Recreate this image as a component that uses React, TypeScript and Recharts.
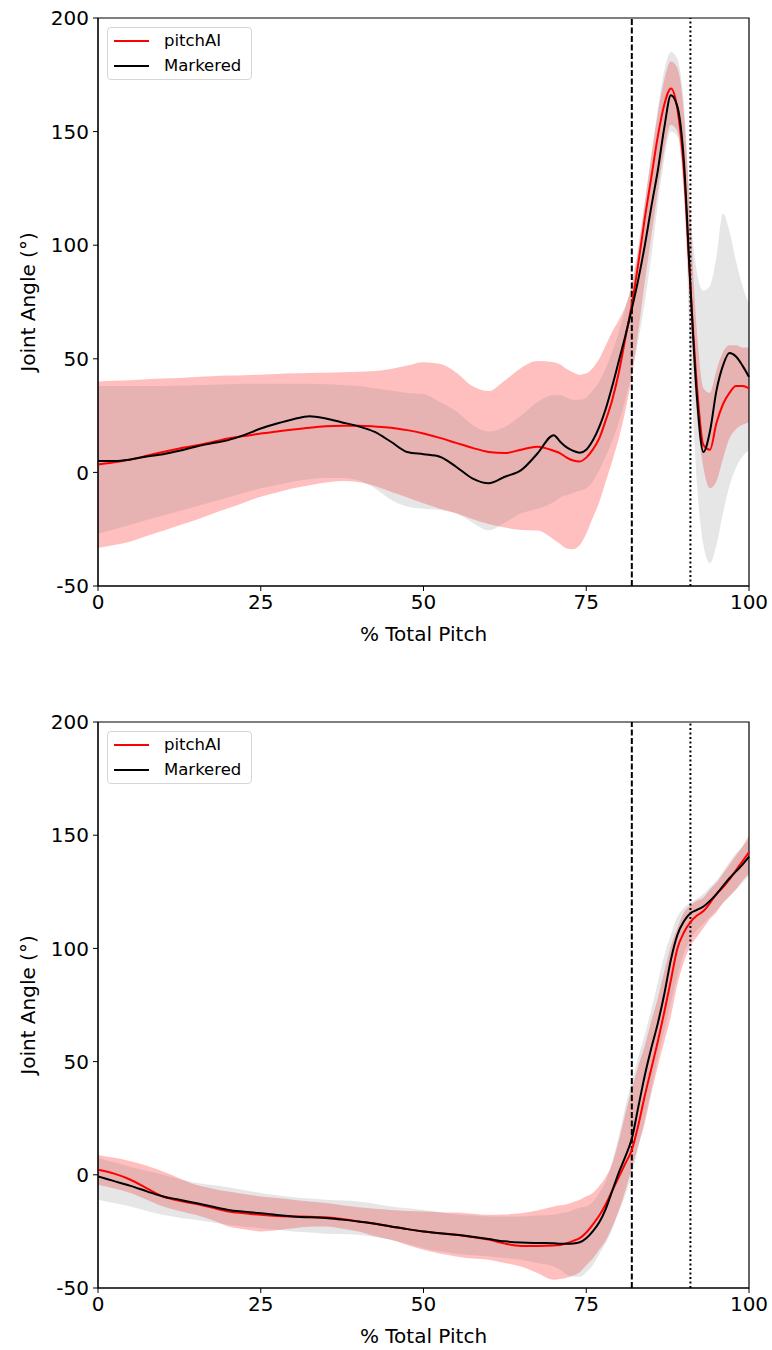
import React from "react";
import { ComposedChart, Area, Line, XAxis, YAxis, ReferenceLine, ReferenceArea, Legend } from "recharts";

// % of total pitch (finer grid through the arm cocking / acceleration phase)
const pct = [
  0, 2.5, 5, 7.5, 10, 12.5, 15, 17.5, 20, 22.5, 25, 27.5, 30, 32.5, 35, 37.5, 40, 42.5, 45, 47.5, 50, 52.5, 55, 57.5, 60, 62.5, 65, 67.5, 70,
  71, 72, 73, 74, 75, 76, 77, 78, 79, 80, 81, 82, 83, 84, 85, 86, 87, 88, 89, 90, 91, 92, 93, 94, 95, 96, 97, 98, 99, 100,
];

// top panel
const topPitchAI = [
  3.5, 4.5, 5.7, 7.3, 9, 10.5, 11.8, 13.3, 14.9, 16, 17.1, 18, 18.9, 19.7, 20.3, 20.5, 20.5, 20.2, 19.7, 18.6, 17.1, 15.2, 13, 10.8, 9, 8.5, 10, 11.3, 9.5,
  8.4, 6.5, 5.2, 4.8, 6.5, 10, 15, 23, 32, 44, 59, 74, 92, 112, 130, 148, 162, 169, 160, 133, 82, 38, 12, 10, 21.7, 30, 35, 38, 38, 37,
];
const topPitchAILo = [
  -33.3, -32, -30.4, -28, -25.7, -23.3, -20.9, -18.3, -15.8, -13.2, -10.7, -8.8, -7, -5.7, -4.5, -3.8, -4.2, -6, -8.5, -11, -13.6, -16, -18, -20.5, -22.7, -24.3, -25.3, -25.6, -29.5,
  -31.5, -33.5, -33.8, -32, -27, -20, -13, -4, 5, 15, 27, 42, 62, 84, 104, 124, 142, 153, 150, 122, 70, 25, 2, -7, -4, 6, 15, 19, 21, 22,
];
const topPitchAIHi = [
  40, 40.3, 40.6, 41, 41.3, 41.6, 42, 42.3, 42.6, 42.8, 43, 43.3, 43.6, 43.8, 43.9, 44.1, 44.3, 44.6, 45.5, 47, 48.5, 47.8, 44, 38, 35.8, 40.5, 46, 49, 48.5,
  47.5, 45.5, 44, 43, 43.5, 46, 50, 56, 62, 67, 73, 82, 98, 118, 139, 158, 173, 181, 178, 158, 110, 62, 37, 35, 45, 53, 56, 56, 55, 55,
];
const topMarkered = [
  5, 5, 5.7, 7, 8, 9.5, 11.3, 12.8, 14.2, 16.5, 19.3, 21.5, 23.4, 24.7, 23.7, 22, 20.3, 17.8, 13.5, 9, 8, 6.9, 2.5, -2.6, -4.8, -1.9, 1, 8.3, 16.4,
  13.5, 11, 9.5, 8.7, 10, 14, 20, 28, 38, 49, 60, 72, 85, 100, 117, 133, 152, 166, 161, 137, 82, 33, 9, 18, 36, 47, 52.5, 51, 47, 42,
];
const topMarkeredLo = [
  -27, -25, -23, -21, -19, -17, -15, -13, -11, -9, -7, -5.5, -4, -3, -2.5, -2.5, -3.5, -7, -12, -15, -16, -16.5, -18, -22, -25.5, -22, -18, -16, -13,
  -11, -10, -9, -8, -7, -4, 1, 7, 14, 22, 32, 44, 58, 75, 95, 118, 138, 150, 148, 125, 50, -5, -32, -40, -32, -18, -6, 2, 7, 10,
];
const topMarkeredHi = [
  38, 38, 38, 38, 38, 38.2, 38.4, 38.6, 38.8, 39, 39, 39, 39, 39, 38.8, 38.5, 38, 37, 36, 35, 34.5, 31, 27, 21, 18, 20, 25, 31, 34,
  34, 33, 32, 32, 33, 36, 40, 46, 53, 62, 72, 84, 100, 120, 140, 160, 177, 185, 182, 162, 115, 88, 80, 82, 95, 114, 106, 93, 82, 74,
];

// bottom panel
const botPitchAI = [
  2.2, 0.5, -2.2, -6, -9.6, -11.5, -12.8, -14.5, -16.2, -17, -17.7, -18.2, -18.4, -18.5, -18.8, -19.5, -20.6, -21.5, -22.8, -24, -25, -25.8, -26.5, -27.5, -28.6, -30.4, -31.4, -31.4, -31.2,
  -31, -30.2, -29.2, -28, -25.5, -22, -18, -13, -7, -1, 5, 11, 22, 35, 47, 59, 72, 86, 100, 107, 111.6, 114.5, 116.5, 120, 124, 127, 130.5, 134.5, 138.5, 142.5,
];
const botPitchAILo = [
  -4.4, -6, -8, -11, -14, -16, -17.7, -20, -22.8, -24, -25, -24.5, -23.6, -23, -22.8, -23.8, -25, -27, -28.7, -31, -33.1, -34.8, -36.1, -37, -37.5, -39, -40.5, -43.4, -46.4,
  -46, -45.5, -44.5, -43, -40, -37, -33, -29, -23, -16, -7, 3, 13, 23, 36, 48, 59, 70, 84, 94, 101, 105, 109, 113, 116, 120, 123, 126, 130, 133,
];
const botPitchAIHi = [
  8.8, 7.5, 6, 4, 1.5, -1.5, -4.4, -6, -7.4, -8.5, -9.6, -10.3, -11, -11.8, -12.5, -13.4, -14.3, -15, -15.5, -16, -16.2, -16.5, -16.7, -17.2, -17.7, -17.5, -17, -15.8, -14,
  -13.5, -13, -12, -11, -9.5, -8, -5, -1, 5, 15, 27, 38, 48, 57, 68, 78, 90, 101, 109, 116, 119, 121, 122.5, 126, 129, 133, 137, 141, 145, 150,
];
const botMarkered = [
  -0.7, -2.8, -4.9, -7.3, -9.6, -11, -12.5, -14, -15.5, -16.3, -17, -17.8, -18.4, -18.8, -19.1, -19.8, -20.6, -21.6, -22.8, -24, -25, -25.8, -26.5, -27.4, -28.4, -29.4, -29.9, -30.1, -30.2,
  -30.4, -30.4, -30.3, -29.8, -28, -25, -21, -15, -7, 1, 8, 16, 30, 44, 56, 67, 80, 95, 106, 112, 115.5, 117, 118.5, 121, 124, 127.5, 131, 134, 137, 140.5,
];
const botMarkeredLo = [
  -11, -12.5, -14, -16, -17.7, -19, -19.9, -21, -22.1, -22.9, -23.6, -24.3, -25, -25.5, -26, -26.2, -26.5, -27.5, -28.7, -30.5, -32.4, -33.8, -34.9, -35.5, -36, -36.8, -37.5, -39, -40.5,
  -42, -44, -45, -45, -43, -40, -35, -30, -24, -16, -9, 0, 12, 25, 38, 52, 64, 76, 88, 98, 104, 108, 111, 114, 117, 120, 123, 126, 129, 132,
];
const botMarkeredHi = [
  7.4, 5.5, 3.5, 1.8, 0, -2, -3.5, -4.5, -5.5, -6.8, -8, -9, -9.9, -10.5, -11, -11.4, -11.8, -12.8, -14, -14.8, -15.5, -16.5, -17.5, -18, -18.4, -18.4, -18.4, -18, -17.7,
  -17, -16.5, -15.5, -14.5, -14, -12, -8, -3, 6, 17, 30, 41, 52, 62, 73, 85, 97, 106, 114, 118, 120, 122, 124, 127, 130, 134, 138, 142, 145, 148,
];

const xTicks = [0, 25, 50, 75, 100];
const yTicks = [-50, 0, 50, 100, 150, 200];
const footContact = 82;
const ballRelease = 91;

const FONT = "DejaVu Sans, sans-serif";

function buildRows(ai: number[], aiLo: number[], aiHi: number[], mk: number[], mkLo: number[], mkHi: number[]) {
  return pct.map((x, i) => ({
    x,
    pitchAI: ai[i],
    pitchAIBand: [aiLo[i], aiHi[i]],
    markered: mk[i],
    markeredBand: [mkLo[i], mkHi[i]],
  }));
}

const topRows = buildRows(topPitchAI, topPitchAILo, topPitchAIHi, topMarkered, topMarkeredLo, topMarkeredHi);
const bottomRows = buildRows(botPitchAI, botPitchAILo, botPitchAIHi, botMarkered, botMarkeredLo, botMarkeredHi);

function LegendBox() {
  const row = (color: string, label: string, top: number) => (
    <div style={{ position: "absolute", left: 0, top, height: 20, display: "flex", alignItems: "center" }}>
      <svg width={50} height={20}>
        <line x1={6} x2={41} y1={10} y2={10} stroke={color} strokeWidth={2} />
      </svg>
      <span style={{ marginLeft: 6, fontSize: 16.5, color: "#000", lineHeight: "20px" }}>{label}</span>
    </div>
  );
  return (
    <div
      style={{
        position: "relative",
        width: 145,
        height: 53,
        boxSizing: "border-box",
        border: "1px solid #d6d6d6",
        borderRadius: 4,
        background: "rgba(255,255,255,0.8)",
        fontFamily: FONT,
      }}
    >
      {row("#ff0000", "pitchAI", 3)}
      {row("#000000", "Markered", 28)}
    </div>
  );
}

function YLabel(props: any) {
  const vb = props.viewBox || { x: 0, y: 0, height: 0 };
  const cx = vb.x + 28;
  const cy = vb.y + vb.height / 2;
  return (
    <text x={cx} y={cy} transform={`rotate(-90 ${cx} ${cy})`} textAnchor="middle" dominantBaseline="central" fontSize={20} fontFamily={FONT} fill="#000">
      Joint Angle (°)
    </text>
  );
}

function AnglePanel({ rows, bottom }: { rows: any[]; bottom: number }) {
  return (
    <ComposedChart width={772} height={680} data={rows} margin={{ top: 18, right: 23, bottom, left: 0 }}>
      <Area dataKey="pitchAIBand" type="monotone" stroke="none" fill="#ff0000" fillOpacity={0.25} isAnimationActive={false} />
      <Area dataKey="markeredBand" type="monotone" stroke="none" fill="#808080" fillOpacity={0.2} isAnimationActive={false} />
      <XAxis
        dataKey="x"
        type="number"
        domain={[0, 100]}
        ticks={xTicks}
        height={60}
        tickSize={5}
        tickMargin={4}
        stroke="#000"
        tick={{ fill: "#000", fontSize: 20, fontFamily: FONT }}
        label={{ value: "% Total Pitch", position: "insideBottom", offset: 5, fontSize: 20, fontFamily: FONT, fill: "#000" }}
      />
      <YAxis
        type="number"
        domain={[-50, 200]}
        ticks={yTicks}
        width={98}
        tickSize={5}
        tickMargin={4}
        stroke="#000"
        allowDataOverflow
        tick={{ fill: "#000", fontSize: 20, fontFamily: FONT }}
        label={{ content: YLabel }}
      />
      <ReferenceArea x1={0} x2={100} y1={-50} y2={200} fill="none" stroke="#000" strokeWidth={1.2} />
      <ReferenceLine x={footContact} stroke="#000" strokeWidth={2} strokeDasharray="6 2.5" />
      <ReferenceLine x={ballRelease} stroke="#000" strokeWidth={2} strokeDasharray="2 2.5" />
      <Line dataKey="pitchAI" type="monotone" stroke="#ff0000" strokeWidth={2} dot={false} isAnimationActive={false} />
      <Line dataKey="markered" type="monotone" stroke="#000000" strokeWidth={2} dot={false} isAnimationActive={false} />
      <Legend
        layout="vertical"
        align="center"
        verticalAlign="middle"
        wrapperStyle={{ left: 107, top: 27, width: 145, height: 53 }}
        content={() => <LegendBox />}
      />
    </ComposedChart>
  );
}

export default function App() {
  return (
    <div style={{ position: "absolute", left: 0, top: 0, width: 772, height: 1350, background: "#fff" }}>
      <div style={{ position: "absolute", left: 0, top: 0 }}>
        <AnglePanel rows={topRows} bottom={34} />
      </div>
      <div style={{ position: "absolute", left: 0, top: 704 }}>
        <AnglePanel rows={bottomRows} bottom={36} />
      </div>
    </div>
  );
}
